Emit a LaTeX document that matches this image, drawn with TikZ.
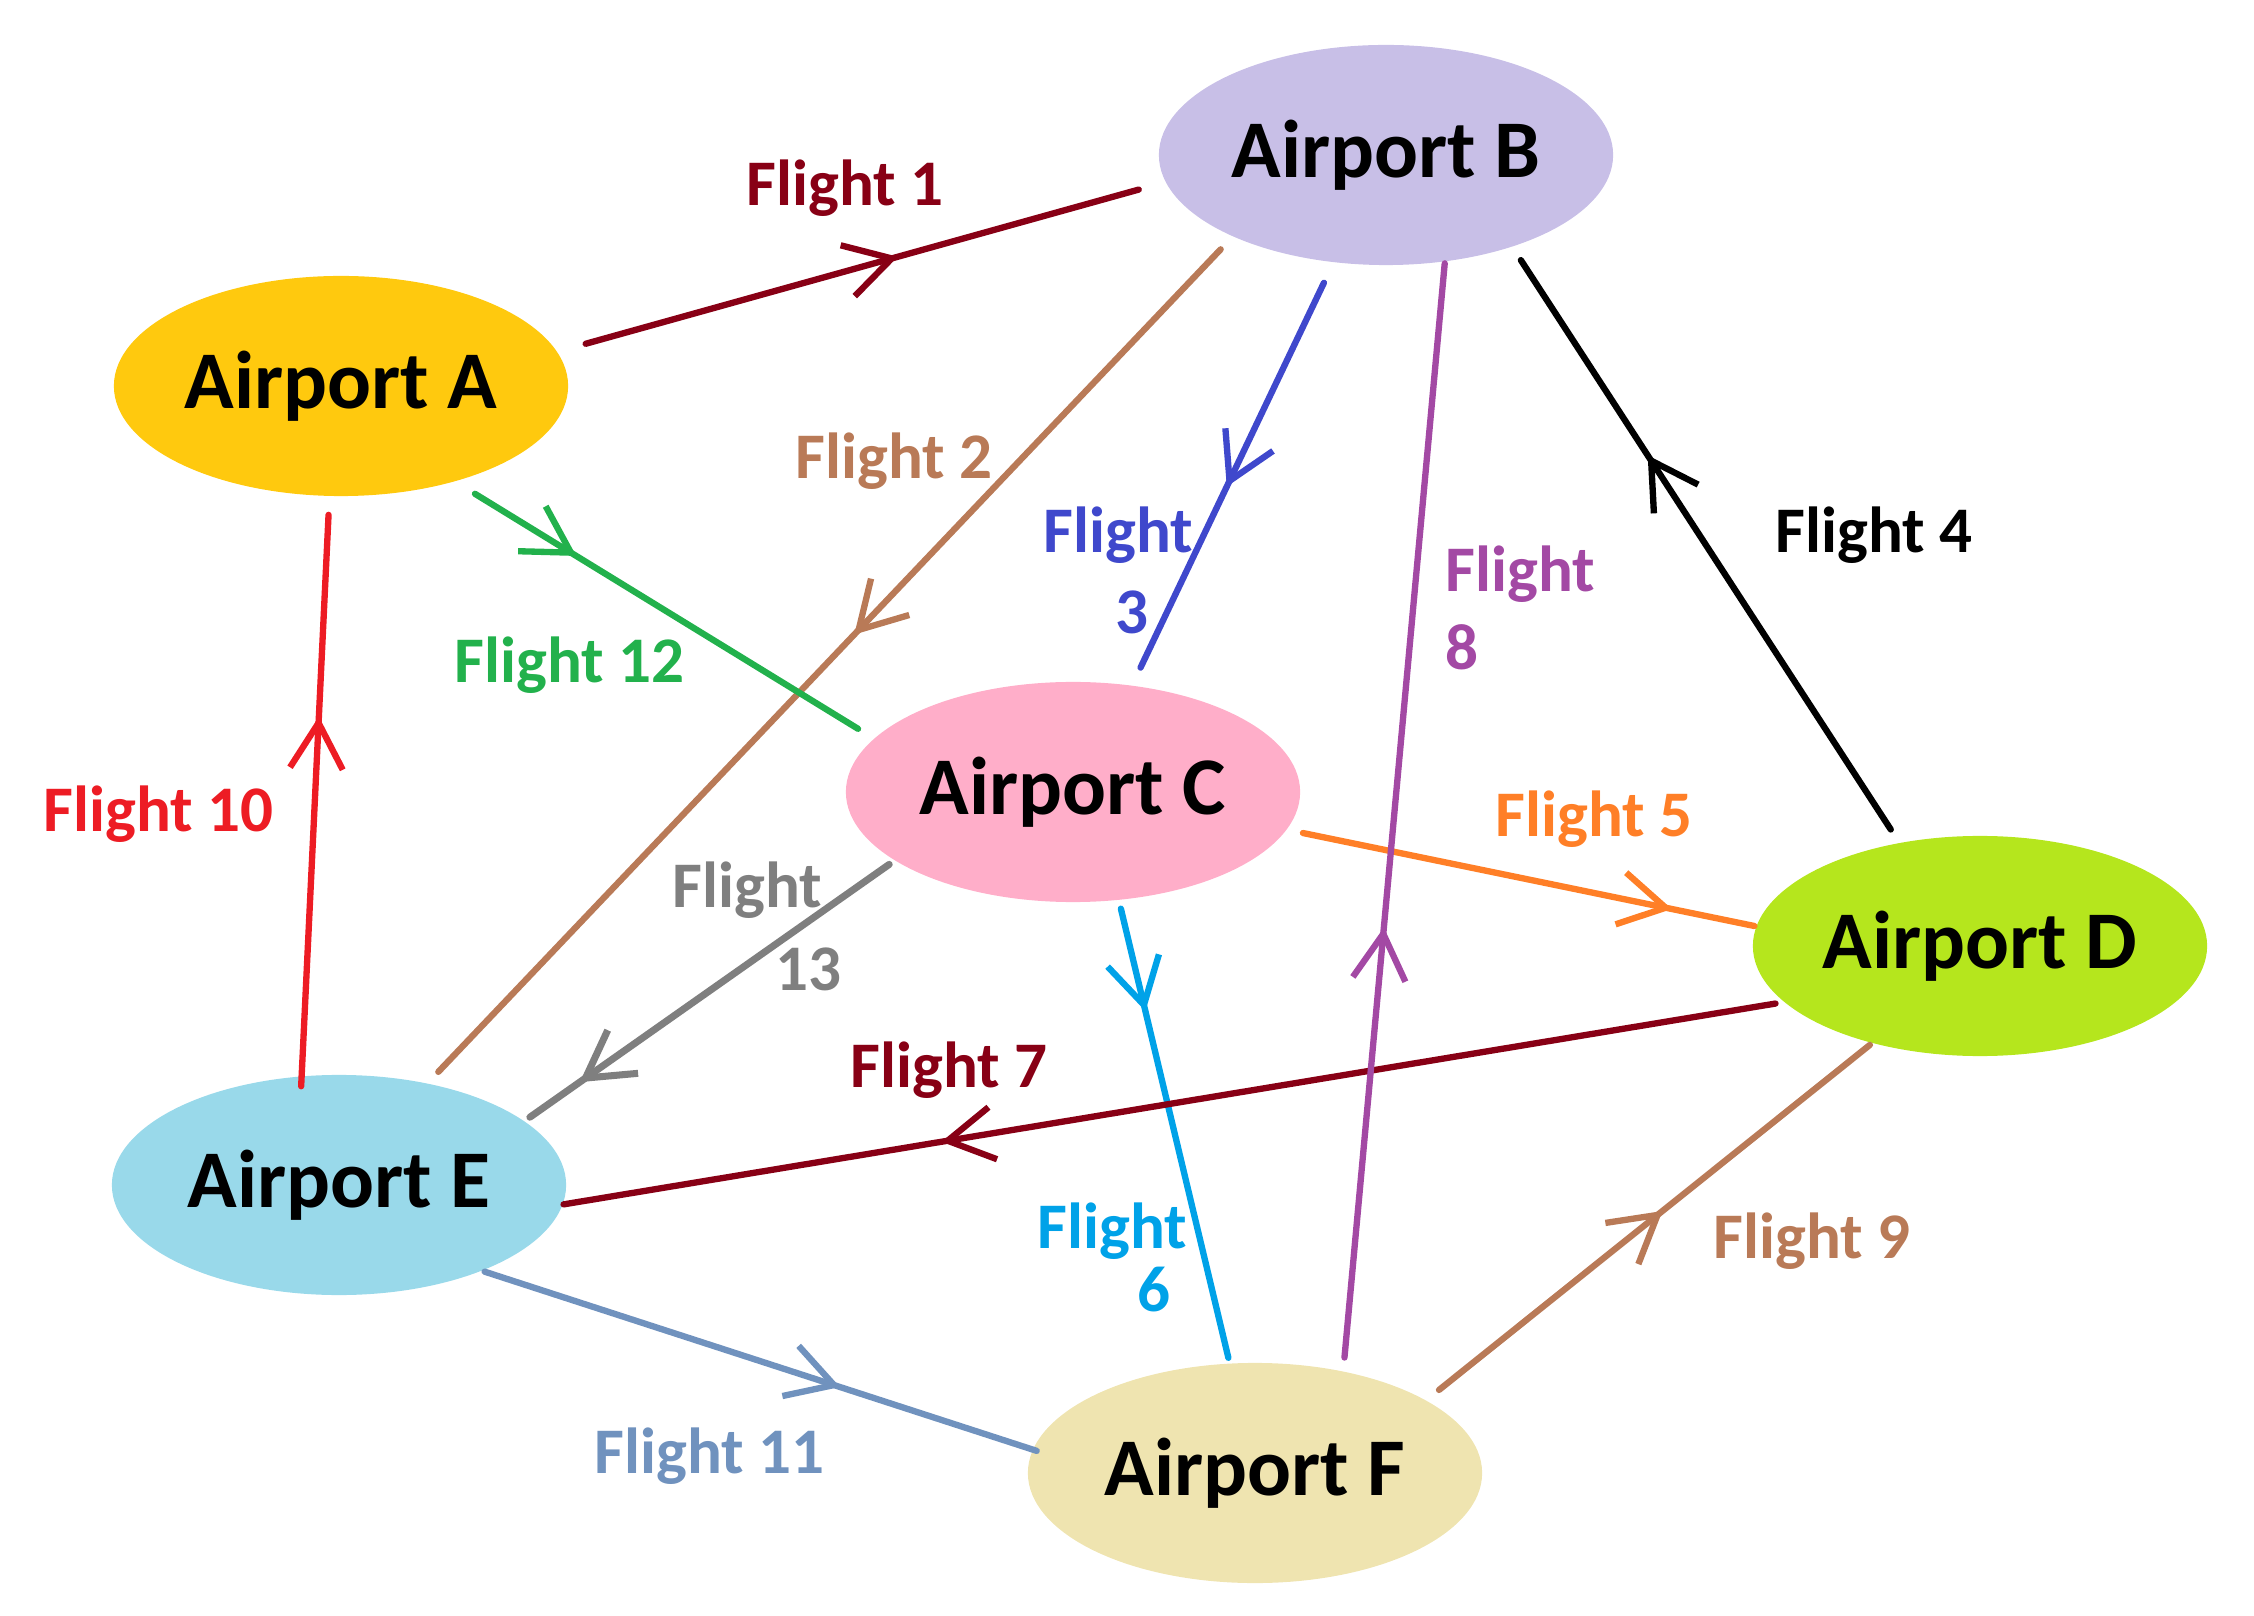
\documentclass[tikz,border=0pt]{standalone}
\usepackage{fontspec}
\setmainfont{Carlito}
\usetikzlibrary{shapes.geometric,arrows.meta,decorations.markings}

\definecolor{fillA}{HTML}{FFC90E}
\definecolor{fillB}{HTML}{C8BFE7}
\definecolor{fillC}{HTML}{FFAEC9}
\definecolor{fillD}{HTML}{B5E61D}
\definecolor{fillE}{HTML}{99D9EA}
\definecolor{fillF}{HTML}{EFE4B0}
\definecolor{maroon}{HTML}{880015}
\definecolor{brownish}{HTML}{B97A57}
\definecolor{indigo}{HTML}{3F48CC}
\definecolor{orangef}{HTML}{FF7F27}
\definecolor{skyf}{HTML}{00A2E8}
\definecolor{purplef}{HTML}{A349A4}
\definecolor{redf}{HTML}{ED1C24}
\definecolor{steelf}{HTML}{7092BE}
\definecolor{greenf}{HTML}{22B14C}
\definecolor{grayf}{HTML}{7F7F7F}

\begin{document}
\begin{tikzpicture}[x=0.01cm,y=-0.01cm,
    airport/.style={ellipse,inner sep=0pt,outer sep=0pt,minimum width=4.54cm,minimum height=2.2cm,
      font=\fontsize{23.3}{28}\selectfont\bfseries},
    lbl/.style={anchor=base west,inner sep=0pt,font=\fontsize{18.5}{22}\selectfont\bfseries},
    flight/.style={line width=1.8pt,line cap=round},
    tipat/.style={postaction={decorate},decoration={markings,
      mark=at position #1 with {\arrow{Straight Barb[length=13pt,width=15pt]}}}}]
  \useasboundingbox (0,0) rectangle (2254,1616);

  % airports
  \node[airport,fill=fillA] (A) at (341,386) {Airport A};
  \node[airport,fill=fillB] (B) at (1386,155) {Airport B};
  \node[airport,fill=fillC] (C) at (1073,792) {Airport C};
  \node[airport,fill=fillD] (D) at (1980,946) {Airport D};
  \node[airport,fill=fillE] (E) at (339,1185) {Airport E};
  \node[airport,fill=fillF] (F) at (1255,1473) {Airport F};

  % flights
  \draw[flight,maroon,tipat=0.56,shorten <=8.5pt,shorten >=8pt] (A.9) -- (B.187);
  \draw[flight,brownish,tipat=0.47,shorten <=5.1pt,shorten >=4.6pt] (B.208) -- (E.49);
  \draw[flight,indigo,tipat=0.53,shorten <=6.5pt,shorten >=5.7pt] (B.244) -- (C.61);
  \draw[flight,black,tipat=0.65,shorten <=4.6pt,shorten >=4.6pt] (D.128) -- (B.-36);
  \draw[flight,orangef,tipat=0.82,shorten <=4.8pt,shorten >=0.6pt] (C.-10) -- (D.175);
  \draw[flight,skyf,tipat=0.24,shorten <=2.6pt,shorten >=1.7pt] (C.-67) -- (F.103);
  \draw[flight,maroon,tipat=0.69,shorten <=2.6pt,shorten >=0.3pt] (D.196) -- (E.-5);
  \draw[flight,purplef,tipat=0.40,shorten <=4pt,shorten >=0.6pt] (F.49) -- (B.-61);
  \draw[flight,brownish,tipat=0.53,shorten <=4.8pt,shorten >=0.9pt] (F.23) -- (D.222);
  \draw[flight,redf,tipat=0.62,shorten <=-2.8pt,shorten >=5.4pt] (E.109) -- (A.264);
  \draw[flight,steelf,tipat=0.65,shorten <=0.9pt,shorten >=-1.1pt] (E.-31) -- (F.174);
  \draw[flight,greenf,tipat=0.29,shorten <=6.8pt,shorten >=5.4pt] (A.-40) -- (C.165);
  \draw[flight,grayf,line width=2pt,tipat=0.85,shorten <=2pt,shorten >=2pt] (C.201) -- (E.19);

  % labels
  \node[lbl,maroon] (l1) at (746,206) {Flight 1};
  \node[lbl,brownish] (l2) at (795,479) {Flight 2};
  \node[lbl,indigo] (l3) at (1043,553) {Flight};
  \node[lbl,indigo] (l3b) at (1115,634) {3};
  \node[lbl,black] (l4) at (1775,553) {Flight 4};
  \node[lbl,orangef] (l5) at (1495,837) {Flight 5};
  \node[lbl,skyf] (l6) at (1037,1248) {Flight};
  \node[lbl,skyf] (l6b) at (1137,1311) {6};
  \node[lbl,maroon] (l7) at (850,1087) {Flight 7};
  \node[lbl,purplef] (l8) at (1445,592) {Flight};
  \node[lbl,purplef] (l8b) at (1445,670) {8};
  \node[lbl,brownish] (l9) at (1713,1258) {Flight 9};
  \node[lbl,redf] (l10) at (43,831) {Flight 10};
  \node[lbl,steelf] (l11) at (594,1473) {Flight 11};
  \node[lbl,greenf] (l12) at (454,683) {Flight 12};
  \node[lbl,grayf] (l13) at (672,908) {Flight};
  \node[lbl,grayf] (l13b) at (775,990) {13};
\end{tikzpicture}
\end{document}
